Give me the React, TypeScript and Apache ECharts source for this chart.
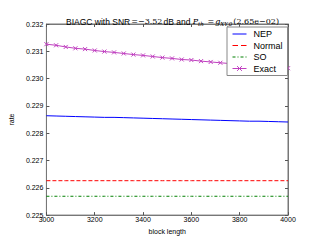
import React, { useEffect, useRef } from "react";
import * as echarts from "echarts";

const blockLengths = [3000, 3040, 3080, 3120, 3160, 3200, 3240, 3280, 3320, 3360, 3400, 3440, 3480, 3520, 3560, 3600, 3640, 3680, 3720, 3760, 3800, 3840, 3880, 3920, 3960, 4000];
const nepValues = [0.22864, 0.22863, 0.22862, 0.22861, 0.2286, 0.22859, 0.22858, 0.22858, 0.22857, 0.22856, 0.22855, 0.22854, 0.22853, 0.22852, 0.22851, 0.2285, 0.22849, 0.22848, 0.22847, 0.22846, 0.22845, 0.22844, 0.22844, 0.22843, 0.22842, 0.22841];
const normalValues = [0.22626, 0.22626, 0.22626, 0.22626, 0.22626, 0.22626, 0.22626, 0.22626, 0.22626, 0.22626, 0.22626, 0.22626, 0.22626, 0.22626, 0.22626, 0.22626, 0.22626, 0.22626, 0.22626, 0.22626, 0.22626, 0.22626, 0.22626, 0.22626, 0.22626, 0.22626];
const soValues = [0.22569, 0.22569, 0.22569, 0.22569, 0.22569, 0.22569, 0.22569, 0.22569, 0.22569, 0.22569, 0.22569, 0.22569, 0.22569, 0.22569, 0.22569, 0.22569, 0.22569, 0.22569, 0.22569, 0.22569, 0.22569, 0.22569, 0.22569, 0.22569, 0.22569, 0.22569];
const exactValues = [0.23126, 0.23122, 0.23116, 0.23111, 0.23108, 0.23103, 0.23099, 0.23096, 0.23092, 0.23088, 0.23085, 0.23081, 0.23077, 0.23074, 0.2307, 0.23068, 0.23064, 0.23061, 0.23058, 0.23055, 0.23052, 0.23049, 0.23046, 0.23043, 0.23041, 0.23038];
const seriesNames = ["NEP", "Normal", "SO", "Exact"];
const seriesColors = ["#0000ff", "#ff0000", "#008000", "#c040c0"];
const seriesDashes: (number[] | string)[] = ["solid", [4, 2], [3, 2, 1, 2], "solid"];

const pair = (vals: number[]) => blockLengths.map((x, i) => [x, vals[i]]);

const legendIcons: (string | undefined)[] = [
  "path://M0,0M14,6M0,2.5h14v1h-14z",
  "path://M0,0M14,6M0,2.5h5.5v1h-5.5zM8.5,2.5h5.5v1h-5.5z",
  "path://M0,0M14,6M0,2.5h3v1h-3zM5,2.5h1v1h-1zM8,2.5h3v1h-3zM13,2.5h1v1h-1z",
  undefined,
];

export default function App() {
  const ref = useRef<HTMLDivElement>(null);
  useEffect(() => {
    if (!ref.current) return;
    const chart = echarts.init(ref.current, null, { renderer: "svg" });
    const font = "Liberation Sans";
    const axisCommon = {
      type: "value" as const,
      axisLine: { show: true, lineStyle: { color: "#777", width: 1 } },
      axisTick: { show: true, inside: true, length: 3, lineStyle: { color: "#555" } },
      splitLine: { show: false },
    };
    const lineSeries = (i: number, vals: number[]) => ({
      name: seriesNames[i],
      type: "line",
      data: pair(vals),
      showSymbol: false,
      symbol: "circle",
      lineStyle: { color: seriesColors[i], width: 1, type: seriesDashes[i] },
      itemStyle: { color: seriesColors[i], borderColor: seriesColors[i], borderWidth: 0 },
    });
    chart.setOption({
      animation: false,
      backgroundColor: "#fff",
      color: seriesColors,
      title: {
        text:
          "{a|BIAGC with SNR}{m|=−3.52}{a|dB and }{mi|P}{sub|th}{m| =}{mi|g}{sub|XY,0}{m|(2.65e−02)}",
        left: 168,
        textAlign: "center",
        top: 11,
        textStyle: {
          fontWeight: "normal",
          rich: {
            a: { fontFamily: font, fontSize: 8.5, color: "#000", fontWeight: "normal" },
            m: { fontFamily: "DejaVu Serif", fontSize: 8, color: "#000", fontWeight: "normal", padding: [0, 1, 0, 1] },
            mi: { fontFamily: "DejaVu Serif", fontStyle: "italic", fontSize: 8, color: "#000", fontWeight: "normal" },
            sub: { fontFamily: "DejaVu Serif", fontStyle: "italic", fontSize: 5.5, color: "#000", fontWeight: "normal", verticalAlign: "bottom", padding: [5, 0, 0, 0] },
          },
        },
      },
      grid: { left: 40, right: 32, top: 24, bottom: 24, show: true, borderColor: "#777", borderWidth: 1 },
      legend: {
        data: seriesNames.map((name, i) =>
          legendIcons[i]
            ? { name, icon: legendIcons[i], itemStyle: { color: seriesColors[i], borderColor: seriesColors[i], borderWidth: 0, opacity: 1 } }
            : { name }
        ),
        orient: "vertical",
        left: 227,
        top: 27,
        padding: [2, 5, 2, 5],
        itemGap: 1.5,
        itemWidth: 14,
        itemHeight: 6,
        borderColor: "#888",
        borderWidth: 1,
        backgroundColor: "#fff",
        lineStyle: {
          width: 1,
          color: "inherit",
          type: "inherit",
          opacity: "inherit",
        },
        itemStyle: {
          borderWidth: 1,
          color: "inherit",
          borderColor: "inherit",
          opacity: "inherit",
        },
        textStyle: { fontFamily: font, fontSize: 9, color: "#000", lineHeight: 10, padding: [0, 0, 0, 2] },
      },
      xAxis: [
        {
          ...axisCommon,
          min: 3000,
          max: 4000,
          interval: 200,
          position: "bottom",
          name: "block length",
          nameLocation: "middle",
          nameGap: 9,
          nameTextStyle: { fontFamily: font, fontSize: 7, color: "#000" },
          axisLabel: { fontFamily: font, fontSize: 7, color: "#000", margin: 1, formatter: (v: number) => String(v) },
        },
        {
          ...axisCommon,
          min: 3000,
          max: 4000,
          interval: 200,
          position: "top",
          axisLabel: { show: false },
        },
      ],
      yAxis: [
        {
          ...axisCommon,
          min: 0.225,
          max: 0.232,
          interval: 0.001,
          position: "left",
          name: "rate",
          nameLocation: "middle",
          nameGap: 27,
          nameTextStyle: { fontFamily: font, fontSize: 7, color: "#000" },
          axisLabel: { fontFamily: font, fontSize: 7, color: "#000", margin: 3, formatter: (v: number) => v.toFixed(3) },
        },
        {
          ...axisCommon,
          min: 0.225,
          max: 0.232,
          interval: 0.001,
          position: "right",
          axisLabel: { show: false },
        },
      ],
      series: [
        lineSeries(0, nepValues),
        lineSeries(1, normalValues),
        lineSeries(2, soValues),
        {
          name: "Exact",
          type: "line",
          data: pair(exactValues),
          symbol: "path://M0,0L10,10M10,0L0,10",
          symbolSize: 4,
          lineStyle: { color: seriesColors[3], width: 1 },
          itemStyle: { color: "none", borderColor: seriesColors[3], borderWidth: 1 },
        },
      ],
    });
    return () => chart.dispose();
  }, []);
  return <div ref={ref} style={{ width: 320, height: 240, position: "absolute", left: 0, top: 0 }} />;
}
